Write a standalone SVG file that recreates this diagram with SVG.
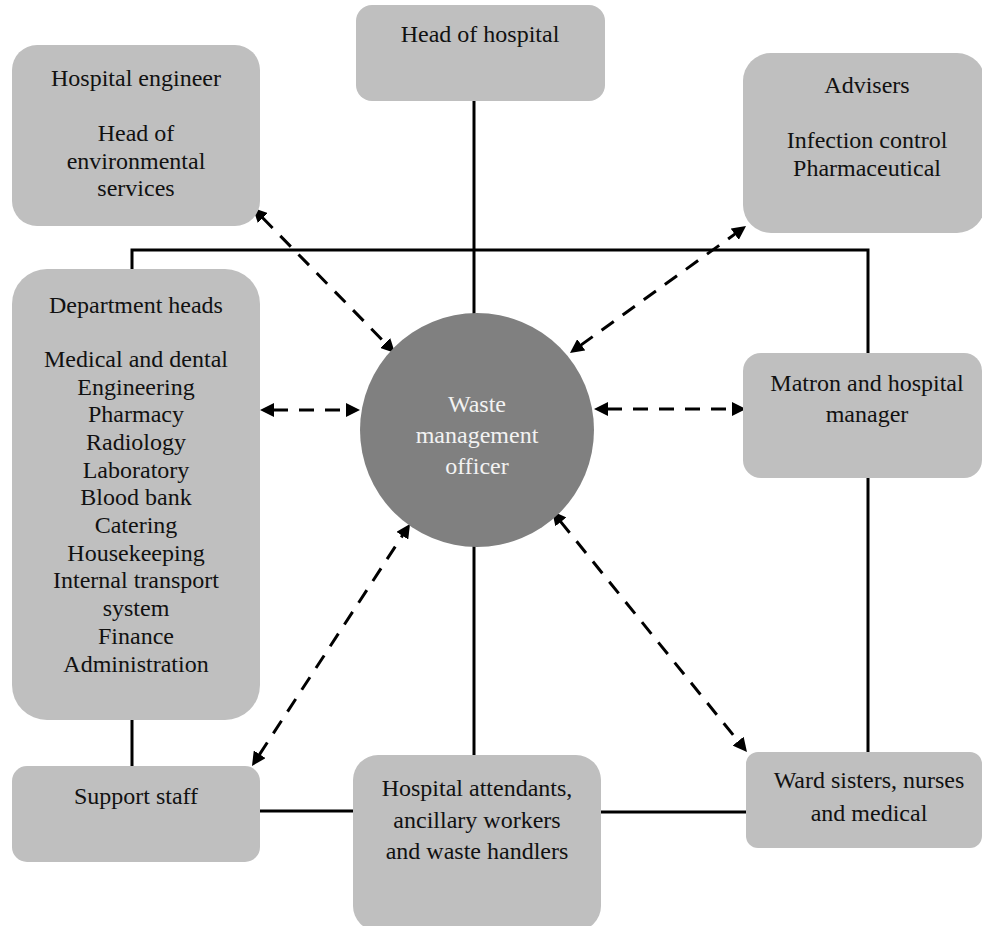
<svg xmlns="http://www.w3.org/2000/svg" width="982" height="926" viewBox="0 0 982 926">
<style>
.box{fill:#bfbfbf;}
.t{font-family:"Liberation Serif","Times New Roman",serif;font-size:24px;fill:#111;text-anchor:middle;}
.tw{font-family:"Liberation Serif","Times New Roman",serif;font-size:24px;fill:#f2f2f2;text-anchor:middle;}
.solid{fill:none;stroke:#000;stroke-width:3;}
.dash{fill:none;stroke:#000;stroke-width:3;stroke-dasharray:15 11;marker-start:url(#ah);marker-end:url(#ah);}
</style>
<defs>
<marker id="ah" viewBox="0 0 14 14" markerUnits="userSpaceOnUse" markerWidth="14" markerHeight="14" refX="1" refY="7" orient="auto-start-reverse">
<path d="M0,0 L14,7 L0,14 z" fill="#000"/>
</marker>
</defs>
<rect width="982" height="926" fill="#fff"/>
<g id="connectors">
<path class="solid" d="M132,269 V250 H868 V353"/>
<path class="solid" d="M474,101 V314"/>
<path class="solid" d="M868,478 V752"/>
<path class="solid" d="M132,720 V766"/>
<path class="solid" d="M474,546 V755"/>
<path class="solid" d="M260,811 H353"/>
<path class="solid" d="M601,812 H746"/>
<path class="dash" d="M262.1,217.3 L385.9,343.7"/>
<path class="dash" d="M580.5,345.4 L735.5,233.6"/>
<path class="dash" d="M273,410 L347,410"/>
<path class="dash" d="M607,409 L733,409"/>
<path class="dash" d="M259.1,755.1 L402.9,534.9"/>
<path class="dash" d="M560.2,521.1 L738.8,741.9"/>
</g>
<g id="head-of-hospital">
<rect class="box" x="356" y="5" width="249" height="96" rx="16"/>
<text class="t" x="480" y="42">Head of hospital</text>
</g>
<g id="hospital-engineer">
<rect class="box" x="12" y="45" width="248" height="181" rx="25"/>
<text class="t" x="136" y="86">Hospital engineer</text>
<text class="t" x="136" y="141">Head of</text>
<text class="t" x="136" y="169">environmental</text>
<text class="t" x="136" y="196">services</text>
</g>
<g id="advisers">
<rect class="box" x="743" y="53" width="242" height="180" rx="28"/>
<text class="t" x="867" y="93">Advisers</text>
<text class="t" x="867" y="148">Infection control</text>
<text class="t" x="867" y="176">Pharmaceutical</text>
</g>
<g id="department-heads">
<rect class="box" x="12" y="269" width="248" height="451" rx="35"/>
<text class="t" x="136" y="313">Department heads</text>
<text class="t" x="136" y="367">Medical and dental</text>
<text class="t" x="136" y="395">Engineering</text>
<text class="t" x="136" y="422">Pharmacy</text>
<text class="t" x="136" y="450">Radiology</text>
<text class="t" x="136" y="478">Laboratory</text>
<text class="t" x="136" y="505">Blood bank</text>
<text class="t" x="136" y="533">Catering</text>
<text class="t" x="136" y="561">Housekeeping</text>
<text class="t" x="136" y="588">Internal transport</text>
<text class="t" x="136" y="616">system</text>
<text class="t" x="136" y="644">Finance</text>
<text class="t" x="136" y="672">Administration</text>
</g>
<g id="waste-management-officer">
<circle cx="477" cy="430" r="117" fill="#808080"/>
<text class="tw" x="477" y="412">Waste</text>
<text class="tw" x="477" y="443">management</text>
<text class="tw" x="477" y="474">officer</text>
</g>
<g id="matron">
<rect class="box" x="743" y="353" width="239" height="125" rx="18"/>
<text class="t" x="867" y="391">Matron and hospital</text>
<text class="t" x="867" y="422">manager</text>
</g>
<g id="support-staff">
<rect class="box" x="12" y="766" width="248" height="96" rx="15"/>
<text class="t" x="136" y="804">Support staff</text>
</g>
<g id="hospital-attendants">
<rect class="box" x="353" y="755" width="248" height="176" rx="25"/>
<text class="t" x="477" y="796">Hospital attendants,</text>
<text class="t" x="477" y="828">ancillary workers</text>
<text class="t" x="477" y="859">and waste handlers</text>
</g>
<g id="ward-sisters">
<rect class="box" x="746" y="752" width="236" height="96" rx="12"/>
<text class="t" x="869" y="788">Ward sisters, nurses</text>
<text class="t" x="869" y="821">and medical</text>
</g>
</svg>
